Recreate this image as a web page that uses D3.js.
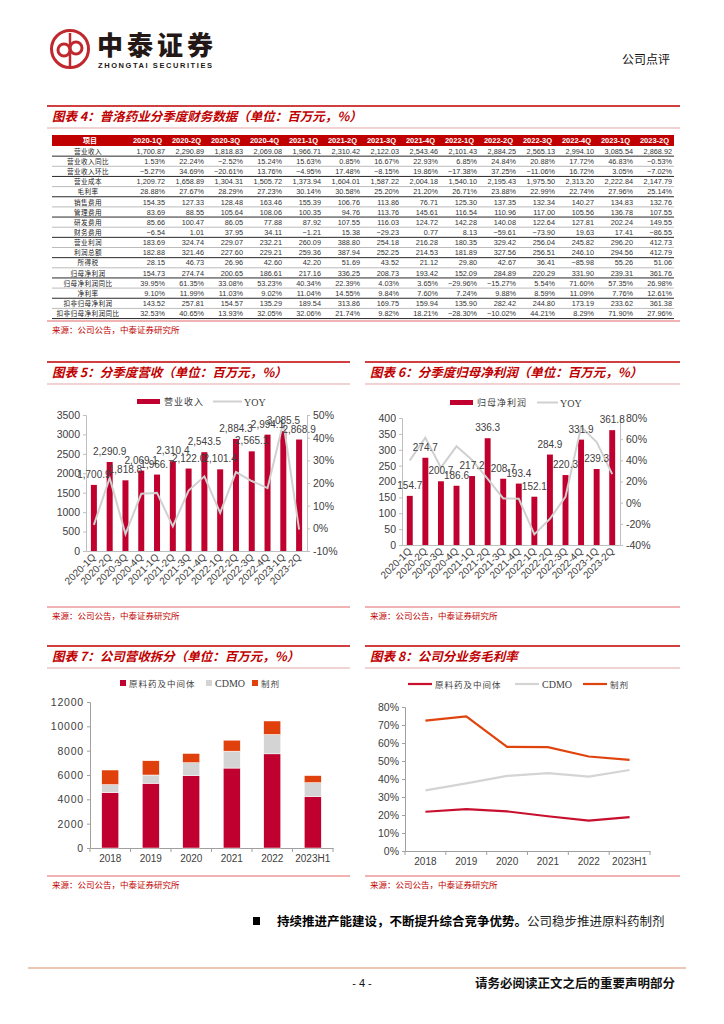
<!DOCTYPE html>
<html>
<head>
<meta charset="utf-8">
<script src="https://cdn.jsdelivr.net/npm/d3@7"></script>
<style>
body { margin: 0; background: #fff; }
text { font-family: "Liberation Sans", Arial, "Noto Sans CJK SC", sans-serif; }
.cn { font-family: "Noto Sans CJK SC", sans-serif; }
.serif { font-family: "Liberation Serif", "Times New Roman", serif; }
</style>
</head>
<body>
<svg id="page" width="724" height="1024"></svg>
<script>
'use strict'

/**
 */
const quarters = ['2020-1Q','2020-2Q','2020-3Q','2020-4Q','2021-1Q','2021-2Q','2021-3Q','2021-4Q',
	'2022-1Q','2022-2Q','2022-3Q','2022-4Q','2023-1Q','2023-2Q'];

const revenue = [1700.87, 2290.89, 1818.83, 2069.08, 1966.71, 2310.42, 2122.03, 2543.46, 2101.43, 2884.25, 2565.13, 2994.10, 3085.54, 2868.92];
const revenueYoy = [1.53, 22.24, -2.52, 15.24, 15.63, 0.85, 16.67, 22.93, 6.85, 24.84, 20.88, 17.72, 46.83, -0.53];
const revenueQoq = [-5.27, 34.69, -20.61, 13.76, -4.95, 17.48, -8.15, 19.86, -17.38, 37.25, -11.06, 16.72, 3.05, -7.02];
const cost = [1209.72, 1658.89, 1304.31, 1505.72, 1373.94, 1604.01, 1587.22, 2004.18, 1540.10, 2195.43, 1975.50, 2313.20, 2222.84, 2147.79];
const grossMargin = [28.88, 27.67, 28.29, 27.23, 30.14, 30.58, 25.20, 21.20, 26.71, 23.88, 22.99, 22.74, 27.96, 25.14];
const salesExp = [154.35, 127.33, 128.48, 163.46, 155.39, 106.76, 113.86, 76.71, 125.30, 137.35, 132.34, 140.27, 134.83, 132.76];
const adminExp = [83.69, 88.55, 105.64, 108.06, 100.35, 94.76, 113.76, 145.61, 116.54, 110.96, 117.00, 105.56, 136.78, 107.55];
const rdExp = [85.66, 100.47, 86.05, 77.88, 87.92, 107.55, 116.03, 124.72, 142.28, 140.08, 122.64, 127.81, 202.24, 149.55];
const finExp = [-6.54, 1.01, 37.95, 34.11, -1.21, 15.38, -29.23, 0.77, 8.13, -59.61, -73.90, 19.63, 17.41, -86.55];
const opProfit = [183.69, 324.74, 229.07, 232.21, 260.09, 388.80, 254.18, 216.28, 180.35, 329.42, 256.04, 245.82, 296.20, 412.73];
const totalProfit = [182.88, 321.46, 227.60, 229.21, 259.36, 387.94, 252.25, 214.53, 181.89, 327.56, 256.51, 246.10, 294.56, 412.79];
const incomeTax = [28.15, 46.73, 26.96, 42.60, 42.20, 51.69, 43.52, 21.12, 29.80, 42.67, 36.41, -85.98, 55.26, 51.06];
const netProfit = [154.73, 274.74, 200.65, 186.61, 217.16, 336.25, 208.73, 193.42, 152.09, 284.89, 220.29, 331.90, 239.31, 361.76];
const netProfitYoy = [39.95, 61.35, 33.08, 53.23, 40.34, 22.39, 4.03, 3.65, -29.96, -15.27, 5.54, 71.60, 57.35, 26.98];
const netMargin = [9.10, 11.99, 11.03, 9.02, 11.04, 14.55, 9.84, 7.60, 7.24, 9.88, 8.59, 11.09, 7.76, 12.61];
const deductProfit = [143.52, 257.81, 154.57, 135.29, 189.54, 313.86, 169.75, 159.94, 135.90, 282.42, 244.80, 173.19, 233.62, 361.38];
const deductProfitYoy = [32.53, 40.65, 13.93, 32.05, 32.06, 21.74, 9.82, 18.21, -28.30, -10.02, 44.21, 8.29, 71.90, 27.96];

const years = ['2018', '2019', '2020', '2021', '2022', '2023H1'];
const segments = ['原料药及中间体', 'CDMO', '制剂'];
const apiRevenue = [4550, 5320, 5950, 6570, 7740, 4230];
const cdmoRevenue = [660, 680, 1060, 1390, 1590, 1140];
const formRevenue = [1200, 1170, 760, 900, 1110, 580];
const apiMargin = [21.8, 23.3, 22.0, 19.3, 16.9, 18.8];
const cdmoMargin = [33.7, 37.6, 41.7, 43.3, 41.3, 45.0];
const formMargin = [72.4, 74.8, 57.9, 57.7, 52.5, 50.6];

const revTicks = [0, 500, 1000, 1500, 2000, 2500, 3000, 3500];
const revYoyTicks = [-10, 0, 10, 20, 30, 40, 50];
const npTicks = [0, 50, 100, 150, 200, 250, 300, 350, 400];
const npYoyTicks = [-40, -20, 0, 20, 40, 60, 80];
const segTicks = [0, 2000, 4000, 6000, 8000, 10000, 12000];
const marginTicks = [0, 10, 20, 30, 40, 50, 60, 70, 80];

const RED = '#c00000';
const BAR_RED = '#c0002e';
const GREY = '#d0d0d0';
const ORANGE = '#e0400c';
const AXIS = '#bfbfbf';
const TXT = '#404040';

const svg = d3.select('#page');
const fmt2 = d3.format(',.2f');
const fmt1 = d3.format(',.1f');
const plain = d3.format('d');
const pct = v => d3.format('.2f')(v) + '%';

/* ---------- page header ---------- */
const logo = svg.append('g').attr('stroke', '#c0282d').attr('fill', 'none');
logo.append('circle').attr('cx', 70).attr('cy', 49).attr('r', 18.5).attr('stroke-width', 3);
logo.append('circle').attr('cx', 64).attr('cy', 50).attr('r', 6).attr('stroke-width', 3);
logo.append('circle').attr('cx', 76).attr('cy', 48).attr('r', 6).attr('stroke-width', 3);
logo.append('line').attr('x1', 70).attr('x2', 70).attr('y1', 33).attr('y2', 66).attr('stroke-width', 2.5);

svg.append('text').attr('class', 'cn').attr('x', 97).attr('y', 55)
	.attr('font-size', 26).attr('font-weight', 900).attr('fill', '#231815')
	.attr('textLength', 116).text('中泰证券');
svg.append('text').attr('x', 98).attr('y', 68).attr('font-size', 7.5).attr('font-weight', 'bold')
	.attr('fill', '#231815').attr('textLength', 114).text('ZHONGTAI SECURITIES');
svg.append('text').attr('class', 'cn').attr('x', 670).attr('y', 64).attr('text-anchor', 'end')
	.attr('font-size', 12).attr('fill', '#111').text('公司点评');

/* ---------- helpers ---------- */
function panelTitle(x1, x2, y, title) {
	svg.append('line').attr('x1', x1).attr('x2', x2).attr('y1', y).attr('y2', y)
		.attr('stroke', RED).attr('stroke-width', 1.6);
	svg.append('text').attr('class', 'cn').attr('x', x1 + 5).attr('y', y + 15)
		.attr('font-size', 12.5).attr('font-weight', 'bold').attr('font-style', 'italic')
		.attr('fill', RED).text(title);
	svg.append('line').attr('x1', x1).attr('x2', x2).attr('y1', y + 22).attr('y2', y + 22)
		.attr('stroke', '#d98080').attr('stroke-width', 0.7);
}

function sourceNote(x1, x2, y) {
	svg.append('line').attr('x1', x1).attr('x2', x2).attr('y1', y).attr('y2', y)
		.attr('stroke', '#d94040').attr('stroke-width', 0.8);
	svg.append('text').attr('class', 'cn').attr('x', x1 + 5).attr('y', y + 12)
		.attr('font-size', 8.5).attr('fill', RED).text('来源：公司公告，中泰证券研究所');
}

function styleAxis(g, color) {
	g.select('.domain').attr('stroke', color);
	g.selectAll('.tick line').attr('stroke', color);
	g.selectAll('.tick text').attr('fill', TXT);
}

/* ---------- table 4 ---------- */
panelTitle(47, 680, 106, '图表 4：普洛药业分季度财务数据（单位：百万元，%）');

const tableRows = [
	['营业收入', revenue, fmt2], ['营业收入同比', revenueYoy, pct], ['营业收入环比', revenueQoq, pct],
	['营业成本', cost, fmt2], ['毛利率', grossMargin, pct], ['销售费用', salesExp, fmt2],
	['管理费用', adminExp, fmt2], ['研发费用', rdExp, fmt2], ['财务费用', finExp, fmt2],
	['营业利润', opProfit, fmt2], ['利润总额', totalProfit, fmt2], ['所得税', incomeTax, fmt2],
	['归母净利润', netProfit, fmt2], ['归母净利润同比', netProfitYoy, pct], ['净利率', netMargin, pct],
	['扣非归母净利润', deductProfit, fmt2], ['扣非归母净利润同比', deductProfitYoy, pct]
];

const tX0 = 52, tLabelW = 76, tX1 = 674, headTop = 135, headH = 11, rowH = 10.15;
const colX = d3.scaleBand().domain(quarters).range([tX0 + tLabelW, tX1]);
const table = svg.append('g');

table.append('rect').attr('x', tX0).attr('y', headTop).attr('width', tX1 - tX0).attr('height', headH)
	.attr('fill', '#c00000');
table.append('text').attr('class', 'cn').attr('x', tX0 + tLabelW / 2).attr('y', headTop + 8.2)
	.attr('text-anchor', 'middle').attr('font-size', 7).attr('font-weight', 'bold').attr('fill', '#fff').text('项目');
table.selectAll('text.qh').data(quarters).enter().append('text')
	.attr('x', d => colX(d) + colX.bandwidth() / 2).attr('y', headTop + 8.3)
	.attr('text-anchor', 'middle').attr('font-size', 7.5).attr('font-weight', 'bold')
	.attr('fill', '#fff').text(d => d);

tableRows.forEach((r, i) => {
	const yTop = headTop + headH + i * rowH;
	table.append('text').attr('class', 'cn').attr('x', tX0 + tLabelW / 2 - 2).attr('y', yTop + 7.8)
		.attr('text-anchor', 'middle').attr('font-size', 6.6).attr('letter-spacing', 0.4)
		.attr('fill', '#222').text(r[0]);
	table.selectAll(null).data(r[1]).enter().append('text')
		.attr('x', (d, j) => colX(quarters[j]) + colX.bandwidth() - 2).attr('y', yTop + 7.8)
		.attr('text-anchor', 'end').attr('font-size', 7.3).attr('fill', '#333')
		.text(d => r[2](d));
	table.append('line').attr('x1', tX0).attr('x2', tX1).attr('y1', yTop + rowH).attr('y2', yTop + rowH)
		.attr('stroke', i % 2 === 0 ? '#111' : '#777').attr('stroke-width', i % 2 === 0 ? 0.9 : 0.5);
});
sourceNote(47, 680, 321);

/* ---------- chart 5 : quarterly revenue ---------- */
panelTitle(47, 350, 362, '图表 5：分季度营收（单位：百万元，%）');
{
	const x = d3.scaleBand().domain(quarters).range([86, 307]).paddingInner(0.62).paddingOuter(0.31);
	const y = d3.scaleLinear().domain([0, 3500]).range([551, 415]);
	const y2 = d3.scaleLinear().domain([-10, 50]).range([551, 415]);
	const cx = d => x(d) + x.bandwidth() / 2;

	const gL = svg.append('g').attr('transform', 'translate(86,0)')
		.call(d3.axisLeft(y).tickValues(revTicks).tickSize(3).tickPadding(3).tickFormat(plain));
	gL.selectAll('text').attr('font-size', 10.5);
	styleAxis(gL, AXIS);
	const gR = svg.append('g').attr('transform', 'translate(307,0)')
		.call(d3.axisRight(y2).tickValues(revYoyTicks).tickSize(3).tickPadding(3).tickFormat(d => d + '%'));
	gR.selectAll('text').attr('font-size', 10.5);
	styleAxis(gR, AXIS);
	const gB = svg.append('g').attr('transform', 'translate(0,551)').call(d3.axisBottom(x).tickSize(0));
	gB.selectAll('text').attr('font-size', 10).attr('text-anchor', 'end')
		.attr('transform', 'rotate(-45)').attr('dx', '-0.3em').attr('dy', '0.35em');
	styleAxis(gB, AXIS);

	svg.append('g').selectAll('rect').data(revenue).enter().append('rect')
		.attr('x', (d, i) => x(quarters[i])).attr('width', x.bandwidth())
		.attr('y', d => y(d)).attr('height', d => y(0) - y(d)).attr('fill', BAR_RED);

	const line = d3.line().x((d, i) => cx(quarters[i])).y(d => y2(d));
	svg.append('path').datum(revenueYoy).attr('d', line).attr('fill', 'none')
		.attr('stroke', GREY).attr('stroke-width', 2);

	svg.append('g').selectAll('text').data(revenue).enter().append('text')
		.attr('x', (d, i) => cx(quarters[i])).attr('y', d => y(d) - 7)
		.attr('text-anchor', 'middle').attr('font-size', 10).attr('fill', TXT).text(d => fmt1(d));

	svg.append('rect').attr('x', 137).attr('y', 399).attr('width', 23).attr('height', 5).attr('fill', BAR_RED);
	svg.append('text').attr('class', 'cn').attr('x', 164).attr('y', 405).attr('font-size', 9)
		.attr('letter-spacing', 1).attr('fill', TXT).text('营业收入');
	svg.append('line').attr('x1', 213).attr('x2', 242).attr('y1', 401.5).attr('y2', 401.5)
		.attr('stroke', GREY).attr('stroke-width', 2);
	svg.append('text').attr('class', 'serif').attr('x', 244).attr('y', 405.5).attr('font-size', 10)
		.attr('fill', TXT).text('YOY');
}
sourceNote(47, 350, 607);

/* ---------- chart 6 : quarterly net profit ---------- */
panelTitle(365, 680, 362, '图表 6：分季度归母净利润（单位：百万元，%）');
{
	const x = d3.scaleBand().domain(quarters).range([402, 620]).paddingInner(0.62).paddingOuter(0.31);
	const y = d3.scaleLinear().domain([0, 400]).range([545, 418]);
	const y2 = d3.scaleLinear().domain([-40, 80]).range([545, 418]);
	const cx = d => x(d) + x.bandwidth() / 2;

	const gL = svg.append('g').attr('transform', 'translate(402,0)')
		.call(d3.axisLeft(y).tickValues(npTicks).tickSize(3).tickPadding(3).tickFormat(plain));
	gL.selectAll('text').attr('font-size', 10.5);
	styleAxis(gL, AXIS);
	const gR = svg.append('g').attr('transform', 'translate(620,0)')
		.call(d3.axisRight(y2).tickValues(npYoyTicks).tickSize(3).tickPadding(3).tickFormat(d => d + '%'));
	gR.selectAll('text').attr('font-size', 10.5);
	styleAxis(gR, AXIS);
	const gB = svg.append('g').attr('transform', 'translate(0,545)').call(d3.axisBottom(x).tickSize(0));
	gB.selectAll('text').attr('font-size', 10).attr('text-anchor', 'end')
		.attr('transform', 'rotate(-45)').attr('dx', '-0.3em').attr('dy', '0.35em');
	styleAxis(gB, AXIS);

	svg.append('g').selectAll('rect').data(netProfit).enter().append('rect')
		.attr('x', (d, i) => x(quarters[i])).attr('width', x.bandwidth())
		.attr('y', d => y(d)).attr('height', d => y(0) - y(d)).attr('fill', BAR_RED);

	const line = d3.line().x((d, i) => cx(quarters[i])).y(d => y2(d));
	svg.append('path').datum(netProfitYoy).attr('d', line).attr('fill', 'none')
		.attr('stroke', GREY).attr('stroke-width', 2);

	svg.append('g').selectAll('text').data(netProfit).enter().append('text')
		.attr('x', (d, i) => cx(quarters[i])).attr('y', d => y(d) - 7)
		.attr('text-anchor', 'middle').attr('font-size', 10).attr('fill', TXT).text(d => fmt1(d));

	svg.append('rect').attr('x', 450).attr('y', 400).attr('width', 23).attr('height', 5).attr('fill', BAR_RED);
	svg.append('text').attr('class', 'cn').attr('x', 477).attr('y', 406).attr('font-size', 9)
		.attr('letter-spacing', 1).attr('fill', TXT).text('归母净利润');
	svg.append('line').attr('x1', 537).attr('x2', 558).attr('y1', 402.5).attr('y2', 402.5)
		.attr('stroke', GREY).attr('stroke-width', 2);
	svg.append('text').attr('class', 'serif').attr('x', 560).attr('y', 406.5).attr('font-size', 10)
		.attr('fill', TXT).text('YOY');
}
sourceNote(365, 680, 607);

/* ---------- chart 7 : revenue split ---------- */
panelTitle(47, 350, 646, '图表 7：公司营收拆分（单位：百万元，%）');
{
	const x = d3.scaleBand().domain(years).range([90, 333]).paddingInner(0.58).paddingOuter(0.29);
	const y = d3.scaleLinear().domain([0, 12000]).range([848, 702]);
	const rows = years.map((yr, i) => ({ year: yr, api: apiRevenue[i], cdmo: cdmoRevenue[i], form: formRevenue[i] }));
	const stack = d3.stack().keys(['api', 'cdmo', 'form'])(rows);
	const colors = [BAR_RED, '#d4d4d4', ORANGE];

	const gL = svg.append('g').attr('transform', 'translate(90,0)')
		.call(d3.axisLeft(y).tickValues(segTicks).tickSize(3).tickPadding(3).tickFormat(plain));
	gL.selectAll('text').attr('font-size', 10.5).attr('letter-spacing', 0.8);
	styleAxis(gL, '#a0a0a0');
	const gB = svg.append('g').attr('transform', 'translate(0,848)')
		.call(d3.axisBottom(x).tickSize(0).tickPadding(7));
	gB.selectAll('text').attr('font-size', 10);
	styleAxis(gB, '#a0a0a0');
	gB.selectAll(null).data(d3.range(years.length + 1)).enter().append('line')
		.attr('x1', i => 90 + i * x.step()).attr('x2', i => 90 + i * x.step())
		.attr('y1', 0).attr('y2', 4).attr('stroke', '#a0a0a0');

	svg.append('g').selectAll('g').data(stack).enter().append('g')
		.attr('fill', (d, i) => colors[i])
		.selectAll('rect').data(d => d).enter().append('rect')
		.attr('x', d => x(d.data.year)).attr('width', x.bandwidth())
		.attr('y', d => y(d[1])).attr('height', d => y(d[0]) - y(d[1]))
		.attr('stroke', '#fff').attr('stroke-width', 0.5);

	const leg = [[120, segments[0], 'cn'], [206, segments[1], 'serif'], [252, segments[2], 'cn']];
	leg.forEach((l, i) => {
		svg.append('rect').attr('x', l[0]).attr('y', 680).attr('width', 6).attr('height', 6).attr('fill', colors[i]);
		svg.append('text').attr('class', l[2]).attr('x', l[0] + 9).attr('y', 687)
			.attr('font-size', l[2] === 'cn' ? 8.5 : 10).attr('letter-spacing', l[2] === 'cn' ? 1 : 0)
			.attr('fill', TXT).text(l[1]);
	});
}
sourceNote(47, 350, 876);

/* ---------- chart 8 : gross margin by segment ---------- */
panelTitle(365, 680, 646, '图表 8：公司分业务毛利率');
{
	const x = d3.scaleBand().domain(years).range([405, 650]);
	const y = d3.scaleLinear().domain([0, 80]).range([851, 707]);
	const cx = d => x(d) + x.bandwidth() / 2;
	const colors = ['#c8102e', '#d4d4d4', '#e0440e'];

	const gL = svg.append('g').attr('transform', 'translate(405,0)')
		.call(d3.axisLeft(y).tickValues(marginTicks).tickSize(3).tickPadding(3).tickFormat(d => d + '%'));
	gL.selectAll('text').attr('font-size', 10.5);
	styleAxis(gL, '#a0a0a0');
	const gB = svg.append('g').attr('transform', 'translate(0,851)')
		.call(d3.axisBottom(x).tickSize(0).tickPadding(7));
	gB.selectAll('text').attr('font-size', 10);
	styleAxis(gB, '#a0a0a0');
	gB.selectAll(null).data(d3.range(years.length + 1)).enter().append('line')
		.attr('x1', i => 405 + i * x.step()).attr('x2', i => 405 + i * x.step())
		.attr('y1', 0).attr('y2', 4).attr('stroke', '#a0a0a0');

	const line = d3.line().x((d, i) => cx(years[i])).y(d => y(d));
	[apiMargin, cdmoMargin, formMargin].forEach((s, i) => {
		svg.append('path').datum(s).attr('d', line).attr('fill', 'none')
			.attr('stroke', colors[i]).attr('stroke-width', 2.2);
	});

	const leg = [[408, segments[0], 'cn'], [515, segments[1], 'serif'], [583, segments[2], 'cn']];
	leg.forEach((l, i) => {
		svg.append('line').attr('x1', l[0]).attr('x2', l[0] + 24).attr('y1', 684).attr('y2', 684)
			.attr('stroke', colors[i]).attr('stroke-width', 2.2);
		svg.append('text').attr('class', l[2]).attr('x', l[0] + 27).attr('y', 688)
			.attr('font-size', l[2] === 'cn' ? 8.5 : 10).attr('letter-spacing', l[2] === 'cn' ? 1 : 0)
			.attr('fill', TXT).text(l[1]);
	});
}
sourceNote(365, 680, 876);

/* ---------- body text and footer ---------- */
svg.append('rect').attr('x', 253).attr('y', 917).attr('width', 7).attr('height', 8).attr('fill', '#000');
const para = svg.append('text').attr('class', 'cn').attr('x', 277).attr('y', 926).attr('font-size', 12.5);
para.append('tspan').attr('font-weight', 'bold').attr('fill', '#000').text('持续推进产能建设，不断提升综合竞争优势。');
para.append('tspan').attr('fill', '#222').text('公司稳步推进原料药制剂');

svg.append('line').attr('x1', 28).attr('x2', 686).attr('y1', 968).attr('y2', 968)
	.attr('stroke', '#ecc8b4').attr('stroke-width', 2);
svg.append('text').attr('x', 362).attr('y', 987).attr('text-anchor', 'middle')
	.attr('font-size', 11).attr('fill', '#111').text('- 4 -');
svg.append('text').attr('class', 'cn').attr('x', 675).attr('y', 988).attr('text-anchor', 'end')
	.attr('font-size', 12.5).attr('font-weight', 'bold').attr('fill', '#111').text('请务必阅读正文之后的重要声明部分');
</script>
</body>
</html>
